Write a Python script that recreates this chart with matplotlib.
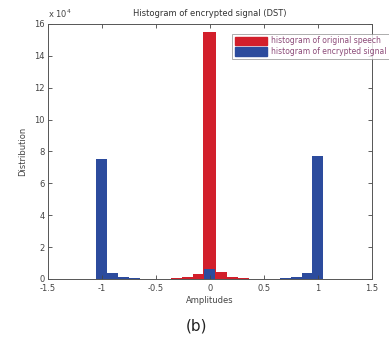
import matplotlib
matplotlib.use("Agg")
import matplotlib.pyplot as plt
from matplotlib.patches import Patch

# histogram counts (units of 1e4), bin centres in amplitude
red_centers = [-0.3, -0.2, -0.1, 0.0, 0.1, 0.2, 0.3]
red_counts = [0.04, 0.1, 0.33, 15.5, 0.42, 0.1, 0.03]

blue_centers = [-1.0, -0.9, -0.8, -0.7, -0.6, -0.5, -0.4,
                0.0, 0.4, 0.5, 0.6, 0.7, 0.8, 0.9, 1.0]
blue_counts = [7.5, 0.38, 0.12, 0.03, 0.02, 0.02, 0.02,
               0.6, 0.02, 0.02, 0.02, 0.06, 0.1, 0.38, 7.7]

xticks = [-1.5, -1, -0.5, 0, 0.5, 1, 1.5]
xtick_labels = ["-1.5", "-1", "-0.5", "0", "0.5", "1", "1.5"]
yticks = [0, 2, 4, 6, 8, 10, 12, 14, 16]

red = "#d21f2b"
blue = "#2c4b9d"
grey = "#444444"

fig = plt.figure(figsize=(3.89, 3.58), dpi=100)
ax = fig.add_axes([0.123, 0.221, 0.833, 0.712])

ax.bar(red_centers, red_counts, width=0.12, color=red, linewidth=0)
ax.bar(blue_centers, blue_counts, width=0.1, color=blue, linewidth=0)

ax.set_xlim(-1.5, 1.5)
ax.set_ylim(0, 16)
ax.set_xticks(xticks)
ax.set_xticklabels(xtick_labels)
ax.set_yticks(yticks)
ax.tick_params(direction="in", top=True, right=True, length=3, width=0.6,
               labelsize=6, colors=grey, pad=2)
ax.tick_params(axis="x", pad=4)
for s in ax.spines.values():
    s.set_linewidth(0.7)
    s.set_color("#555555")

ax.set_title("Histogram of encrypted signal (DST)", fontsize=6, color="#333333", pad=6)
ax.set_xlabel("Amplitudes", fontsize=6, color=grey, labelpad=2)
ax.set_ylabel("Distribution", fontsize=6, color=grey, labelpad=5)
ax.text(0.0, 1.015, r"x 10$^4$", transform=ax.transAxes, fontsize=6, color=grey,
        ha="left", va="bottom")

handles = [Patch(color=red), Patch(color=blue)]
labels = ["histogram of original speech", "histogram of encrypted signal"]
leg = fig.legend(handles, labels, loc="upper right", bbox_to_anchor=(1.0, 0.905),
                 fontsize=5.5, frameon=True, fancybox=False, edgecolor="#888888",
                 handlelength=4.2, handleheight=1.3, handletextpad=0.6,
                 borderpad=0.3, labelspacing=0.25, borderaxespad=0)
leg.get_frame().set_linewidth(0.6)
for t in leg.get_texts():
    t.set_color("#8c4a78")

fig.text(0.505, 0.09, "(b)", fontsize=11, ha="center", va="center", color="#222222")

fig.savefig("out.png", dpi=100)
